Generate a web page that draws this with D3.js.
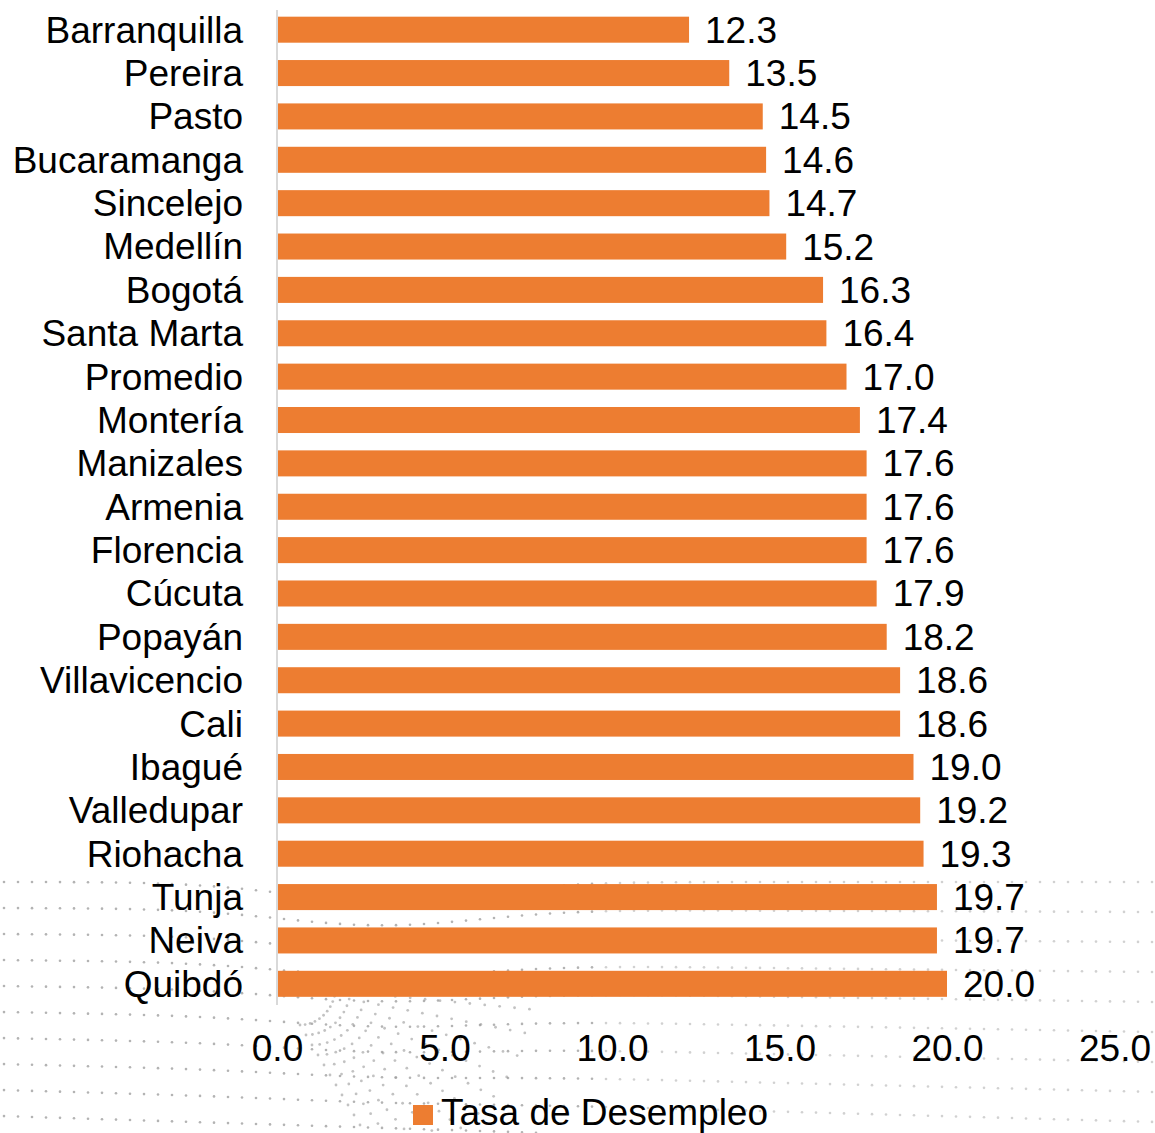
<!DOCTYPE html>
<html>
<head>
<meta charset="utf-8">
<script src="https://cdn.jsdelivr.net/npm/d3@7"></script>
<style>
  body { margin: 0; background: #fff; }
  svg { display: block; font-family: "Liberation Sans", Arial, sans-serif; }
</style>
</head>
<body>
<script>
const cities = ['Barranquilla', 'Pereira', 'Pasto', 'Bucaramanga', 'Sincelejo', 'Medellín',
  'Bogotá', 'Santa Marta', 'Promedio', 'Montería', 'Manizales', 'Armenia', 'Florencia',
  'Cúcuta', 'Popayán', 'Villavicencio', 'Cali', 'Ibagué', 'Valledupar', 'Riohacha',
  'Tunja', 'Neiva', 'Quibdó'];
const rates = [12.3, 13.5, 14.5, 14.6, 14.7, 15.2, 16.3, 16.4, 17.0, 17.4, 17.6, 17.6, 17.6,
  17.9, 18.2, 18.6, 18.6, 19.0, 19.2, 19.3, 19.7, 19.7, 20.0];
const xTicks = [0, 5, 10, 15, 20, 25];
const seriesName = 'Tasa de Desempleo';

const width = 1155;
const height = 1133;
const orange = '#ED7D31';
const fontSize = 37;

const svg = d3.select('body').append('svg')
  .attr('width', width)
  .attr('height', height);

// faint dotted decoration in the background
const deco = svg.append('g').attr('fill', '#999');
for (let r = 0; r < 11; r++) {
  const base = 882 + r * 26;
  for (let i = 0; i < 85; i++) {
    const px = 4 + i * 14;
    const bend = Math.exp(-Math.pow((px - 380) / 140, 2)) * (18 - r * 2);
    const py = base + bend + (px / width) * r * 4;
    if (py > height) continue;
    const fade = px < 600 ? 0.75 : 0.45;
    deco.append('circle').attr('cx', px).attr('cy', py).attr('r', 1.3)
      .attr('opacity', fade);
  }
}
// denser fan near the lower middle
for (let r = 0; r < 14; r++) {
  for (let i = 0; i < 12; i++) {
    const a = (i / 11) * Math.PI * 0.5;
    const rad = 40 + r * 10;
    const px = 300 + Math.cos(a) * rad * 0.9 + r * 6;
    const py = 985 + Math.sin(a) * rad;
    if (py > height) continue;
    deco.append('circle').attr('cx', px).attr('cy', py).attr('r', 1.4)
      .attr('opacity', 0.6);
  }
}

const x = d3.scaleLinear().domain([0, 25]).range([277, 1114.5]);
const y = d3.scaleBand().domain(cities).range([8, 1005.5]).paddingInner(0.4).paddingOuter(0.2);

// bars
svg.append('g').selectAll('rect')
  .data(rates)
  .join('rect')
  .attr('x', x(0))
  .attr('y', (d, i) => y(cities[i]))
  .attr('width', d => x(d) - x(0))
  .attr('height', y.bandwidth())
  .attr('fill', orange);

// value labels
svg.append('g').selectAll('text')
  .data(rates)
  .join('text')
  .attr('x', d => x(d) + 16)
  .attr('y', (d, i) => y(cities[i]) + y.bandwidth() / 2 + 13)
  .attr('font-size', fontSize)
  .attr('fill', '#000')
  .text(d => d.toFixed(1));

// category axis
const yAxis = svg.append('g')
  .attr('transform', `translate(${x(0)},0)`)
  .call(d3.axisLeft(y).tickSize(0).tickPadding(34));
yAxis.select('.domain').attr('stroke', '#d9d9d9').attr('stroke-width', 2)
  .attr('d', 'M0,10V1005');
yAxis.selectAll('text')
  .attr('font-size', fontSize)
  .attr('font-family', '"Liberation Sans", Arial, sans-serif')
  .attr('fill', '#000')
  .attr('dy', '0.35em');

// value axis
const xAxis = svg.append('g')
  .attr('transform', 'translate(0,1005)')
  .call(d3.axisBottom(x).tickValues(xTicks).tickFormat(d3.format('.1f')).tickSize(0).tickPadding(30));
xAxis.select('.domain').remove();
xAxis.selectAll('text')
  .attr('font-size', fontSize)
  .attr('font-family', '"Liberation Sans", Arial, sans-serif')
  .attr('fill', '#000');

// legend
const legend = svg.append('g').attr('transform', 'translate(413,1105)');
legend.append('rect').attr('width', 20).attr('height', 20).attr('fill', orange);
legend.append('text')
  .attr('x', 28).attr('y', 20)
  .attr('font-size', fontSize)
  .attr('fill', '#000')
  .text(seriesName);
</script>
</body>
</html>
